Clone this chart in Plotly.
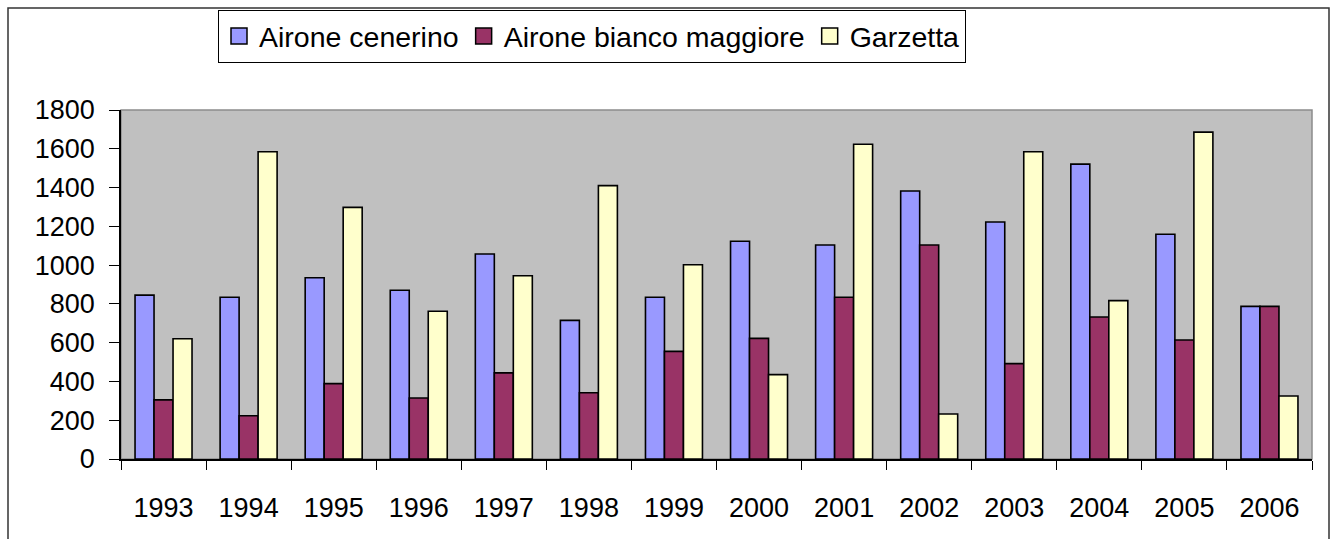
import plotly.graph_objects as go

years = ["1993", "1994", "1995", "1996", "1997", "1998", "1999",
         "2000", "2001", "2002", "2003", "2004", "2005", "2006"]
airone_cenerino = [845, 834, 935, 870, 1057, 715, 834, 1123, 1104, 1382, 1222, 1521, 1159, 787]
airone_bianco = [305, 223, 389, 315, 444, 342, 555, 622, 834, 1104, 492, 732, 614, 787]
garzetta = [620, 1585, 1298, 762, 945, 1410, 1002, 435, 1623, 232, 1585, 817, 1686, 325]

series_names = ["Airone cenerino", "Airone bianco maggiore", "Garzetta"]
series_values = [airone_cenerino, airone_bianco, garzetta]
series_colors = ["#9999FF", "#993366", "#FFFFCC"]
y_ticks = [0, 200, 400, 600, 800, 1000, 1200, 1400, 1600, 1800]

FONT = "Liberation Sans, Arial, sans-serif"

fig = go.Figure()
for name, vals, col in zip(series_names, series_values, series_colors):
    fig.add_trace(go.Bar(
        x=years, y=vals, name=name, showlegend=False,
        marker=dict(color=col, line=dict(color="black", width=1.6)),
    ))
# legend entries (square swatches)
for name, col in zip(series_names, series_colors):
    fig.add_trace(go.Scatter(
        x=[years[0]], y=[None], name=name, mode="markers",
        marker=dict(symbol="square", size=16, color=col,
                    line=dict(color="black", width=1.5)),
        hoverinfo="skip",
    ))

W, H = 1330, 539
L, R, T, B = 121, 18, 110, 80

fig.update_layout(
    width=W, height=H,
    margin=dict(l=L, r=R, t=T, b=B, pad=0, autoexpand=False),
    paper_bgcolor="white",
    plot_bgcolor="#C0C0C0",
    barmode="group",
    bargap=0.33,
    bargroupgap=0,
    font=dict(family=FONT, size=27, color="black"),
    showlegend=True,
    legend=dict(
        orientation="h",
        x=(218 - L) / (W - L - R), xanchor="left",
        y=(H - B - 10) / (H - T - B), yanchor="top",
        bgcolor="white", bordercolor="black", borderwidth=1,
        font=dict(family=FONT, size=28.5, color="black"),
        tracegroupgap=0,
        itemwidth=30,
    ),
    xaxis=dict(
        type="category",
        range=[-0.5, len(years) - 0.5],
        tickson="boundaries",
        ticks="outside", ticklen=9, tickcolor="black", tickwidth=1,
        showline=True, linecolor="black", linewidth=1.5,
        showgrid=False, zeroline=False, automargin=False,
        tickfont=dict(family=FONT, size=27, color="black"),
        ticklabelstandoff=24,
    ),
    yaxis=dict(
        range=[0, 1800],
        tickvals=y_ticks,
        ticks="outside", ticklen=10, tickcolor="black", tickwidth=1,
        showline=True, linecolor="black", linewidth=1.5,
        showgrid=False, zeroline=False, automargin=False,
        tickfont=dict(family=FONT, size=27, color="black"),
        ticklabelstandoff=9,
    ),
    shapes=[
        dict(type="rect", xref="paper", yref="paper", x0=0, x1=1, y0=0, y1=1,
             line=dict(color="#8C8C8C", width=1.5), layer="below"),
        dict(type="rect", xref="paper", yref="paper",
             x0=(8 - L) / (W - L - R), x1=(1329 - L) / (W - L - R),
             y0=(H - B - 560) / (H - T - B), y1=(H - B - 8) / (H - T - B),
             line=dict(color="#333333", width=1.5), layer="below"),
    ],
)

fig.write_html("out.html",
               config={"displayModeBar": False},
               post_script="document.body.style.margin='0';document.body.style.overflow='hidden';")
